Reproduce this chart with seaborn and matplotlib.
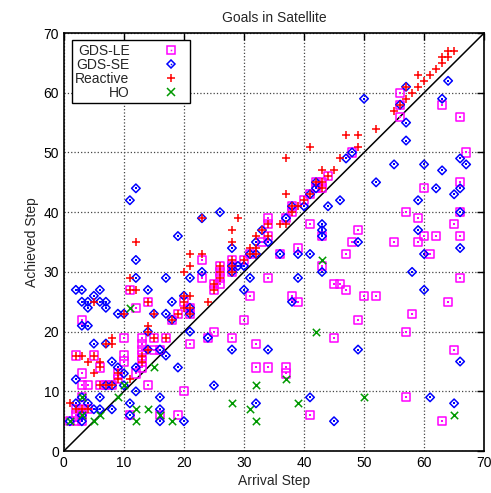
# Goals in Satellite - arrival vs achieved step per planner
import numpy as np
import pandas as pd
import matplotlib
matplotlib.use("Agg")
import matplotlib.pyplot as plt
import seaborn as sns
from matplotlib.lines import Line2D
from matplotlib.legend_handler import HandlerTuple

sns.set_style("white")
plt.rcParams['font.family'] = ['Liberation Sans', 'DejaVu Sans']

# -------------------------
# Data
# -------------------------
le_pts = [(44,46),(42,45),(43,45),(42,44),(43,44),(41,43),(40,42),(38,41),(38,40),(37,39),
          (41,38),(43,36),(39,34),(36,33),(34,39),(34,38),(34,36),(33,35),(28,32),(23,32),
          (56,60),(63,58),(56,58),(56,56),(66,56),(48,50),(67,50),(66,45),(60,44),(57,40),
          (66,40),(59,39),(65,38),(49,37),(60,36),(62,36),(66,36),(48,35),(55,35),(59,35),
          (47,33),(61,33),(66,29),(46,28),(47,27),(50,26),(52,26),(64,25),(58,23),(49,22),
          (57,20),(45,19),(65,17),(57,9),(63,5),(31,33),(30,32),(43,31),(45,28),(23,29),
          (26,31),(26,30),(26,29),(26,28),(25,28),(25,27),(28,31),(28,30),(34,29),(31,26),
          (38,26),(39,25),(30,22),(25,20),(24,19),(28,19),(32,18),(32,14),(34,14),(37,14),
          (37,13),(41,6),(14,11),(20,10),(16,6),(19,6),(11,6),(13,14),(14,25),(20,25),
          (21,24),(21,23),(19,23),(18,22),(13,19),(15,19),(17,19),(21,18),(13,18),(13,17),
          (15,17),(16,17),(13,16),(13,15),(11,27),(12,24),(3,22),(10,19),(2,16),(5,16),
          (6,14),(10,16),(10,15),(3,13),(3,11),(4,11),(6,11),(7,11),(8,11),(9,13),(9,12),
          (12,13),(3,9),(2,7),(3,7),(4,7),(2,6),(3,6),(1,5),(2,5),(3,5)]
se_pts = [(42,45),(42,44),(41,43),(38,41),(37,39),(40,41),(44,41),(46,42),(43,38),(43,37),
          (43,36),(39,33),(41,33),(36,33),(23,39),(26,40),(33,37),(32,35),(34,35),(28,34),
          (31,33),(32,33),(64,62),(57,61),(56,58),(50,59),(63,59),(57,55),(57,52),(48,50),
          (47,49),(55,48),(60,48),(66,49),(67,48),(63,47),(52,45),(62,44),(66,44),(65,43),
          (59,42),(66,40),(59,37),(49,35),(66,34),(60,33),(58,30),(60,27),(49,17),(66,15),
          (61,9),(65,8),(45,5),(43,30),(23,30),(28,31),(28,30),(29,31),(31,29),(39,29),
          (30,27),(38,25),(24,19),(28,17),(34,17),(25,11),(41,9),(32,8),(30,31),(19,14),
          (12,10),(16,9),(16,7),(16,5),(20,5),(14,27),(17,29),(18,25),(20,26),(21,24),
          (21,23),(15,23),(17,23),(18,22),(14,20),(21,20),(14,17),(16,17),(17,16),(2,27),
          (3,27),(6,27),(5,26),(3,25),(4,25),(6,25),(7,25),(4,24),(7,24),(9,23),(10,23),
          (3,21),(4,21),(5,18),(7,18),(8,15),(2,12),(9,14),(10,13),(12,14),(10,11),(7,11),
          (8,11),(2,8),(3,9),(6,9),(5,7),(6,7),(8,7),(11,8),(11,6),(3,6),(1,5),(3,5),
          (4,8),(12,32),(12,29),(21,29),(12,44),(11,42),(19,36)]
re_pts = [(41,51),(37,49),(46,49),(43,47),(45,47),(44,46),(42,45),(43,44),(43,45),(41,43),
          (37,43),(40,42),(39,41),(38,41),(38,40),(36,38),(37,38),(23,39),(29,39),(28,37),
          (28,35),(34,38),(33,37),(34,36),(31,34),(32,34),(32,33),(31,33),(23,33),(64,67),
          (65,67),(64,66),(63,66),(63,65),(62,64),(61,63),(59,63),(60,62),(59,61),(57,61),
          (58,60),(57,59),(56,58),(55,57),(52,54),(47,53),(49,53),(49,51),(28,32),(30,32),
          (26,31),(26,30),(26,29),(25,28),(25,27),(28,31),(28,30),(24,25),(12,27),(14,25),
          (20,26),(21,26),(20,25),(20,24),(15,23),(19,23),(18,22),(14,21),(14,20),(15,19),
          (17,19),(14,17),(13,16),(13,15),(11,27),(5,25),(7,18),(8,19),(8,18),(2,16),
          (3,16),(5,16),(4,15),(6,15),(6,14),(5,13),(6,11),(7,11),(8,11),(9,13),(9,12),
          (11,12),(1,8),(2,7),(3,7),(4,7),(21,33),(21,31),(20,30),(11,29),(10,23),(21,24),
          (21,23),(12,35),(32,36)]
ho_pts = [(43,32),(42,20),(37,12),(32,11),(28,8),(39,8),(31,7),(32,5),(50,9),(65,6),
          (15,14),(12,7),(14,7),(16,6),(12,5),(18,5),(11,24),(10,11),(9,9),(6,6),
          (3,9),(3,6),(1,5),(5,5)]

# -------------------------
# Plot
# -------------------------
fig = plt.figure(figsize=(4.91, 4.93), dpi=100)
ax = fig.add_axes([0.130, 0.085, 0.856, 0.848])

ax.plot([0, 70], [0, 70], color='black', lw=1.1, zorder=1)

series = [
    ('GDS-LE', le_pts, 's', '#ff00ff', 34, True),
    ('GDS-SE', se_pts, 'D', '#0000ff', 19, True),
    ('Reactive', re_pts, '+', '#ff0000', 36, False),
    ('HO', ho_pts, 'x', '#009900', 28, False),
]

handles = []
for z, (name, pts, mk, col, size, dotted) in enumerate(series):
    df = pd.DataFrame(pts, columns=['arrival', 'achieved'])
    if dotted:
        sns.scatterplot(data=df, x='arrival', y='achieved', marker=mk, s=size,
                        facecolor='none', edgecolor=col, linewidth=1.1,
                        ax=ax, legend=False, zorder=2 + z)
        sns.scatterplot(data=df, x='arrival', y='achieved', marker='s', s=1.2,
                        color=col, linewidth=0, ax=ax, legend=False, zorder=2 + z)
        h = (Line2D([], [], marker=mk, ls='none', mfc='none', mec=col, mew=1.1,
                    ms=np.sqrt(size)),
             Line2D([], [], marker='s', ls='none', color=col, ms=1.1, mew=0))
    else:
        sns.scatterplot(data=df, x='arrival', y='achieved', marker=mk, s=size,
                        color=col, linewidth=1.1, ax=ax, legend=False, zorder=2 + z)
        h = (Line2D([], [], marker=mk, ls='none', color=col, mew=1.1, ms=np.sqrt(size)),)
    handles.append(h)

ax.set_xlim(0, 70)
ax.set_ylim(0, 70)
ax.set_xticks(range(0, 71, 10))
ax.set_yticks(range(0, 71, 10))
ax.grid(True, linestyle=':', color='#444444', linewidth=0.9)
ax.set_axisbelow(True)
ax.tick_params(direction='in', top=True, right=True, length=5, width=1,
               labelsize=10, colors='black')
for sp in ax.spines.values():
    sp.set_color('black')
    sp.set_linewidth(1.2)

ax.set_title('Goals in Satellite', fontsize=10, pad=8)
ax.set_xlabel('Arrival Step', fontsize=10, labelpad=3)
ax.set_ylabel('Achieved Step', fontsize=10, labelpad=3)

leg = ax.legend(handles, ['GDS-LE', 'GDS-SE', 'Reactive', 'HO'],
                handler_map={tuple: HandlerTuple(ndivide=1, pad=0)},
                loc='upper left', bbox_to_anchor=(0.019, 0.983), borderaxespad=0,
                markerfirst=False, fontsize=10, labelspacing=0.0,
                handlelength=2.3, handletextpad=1.8, borderpad=0.25,
                fancybox=False, edgecolor='black', framealpha=1)
leg.get_frame().set_linewidth(1.0)
leg.set_zorder(10)

fig.savefig('out.png', dpi=100)
plt.close(fig)
